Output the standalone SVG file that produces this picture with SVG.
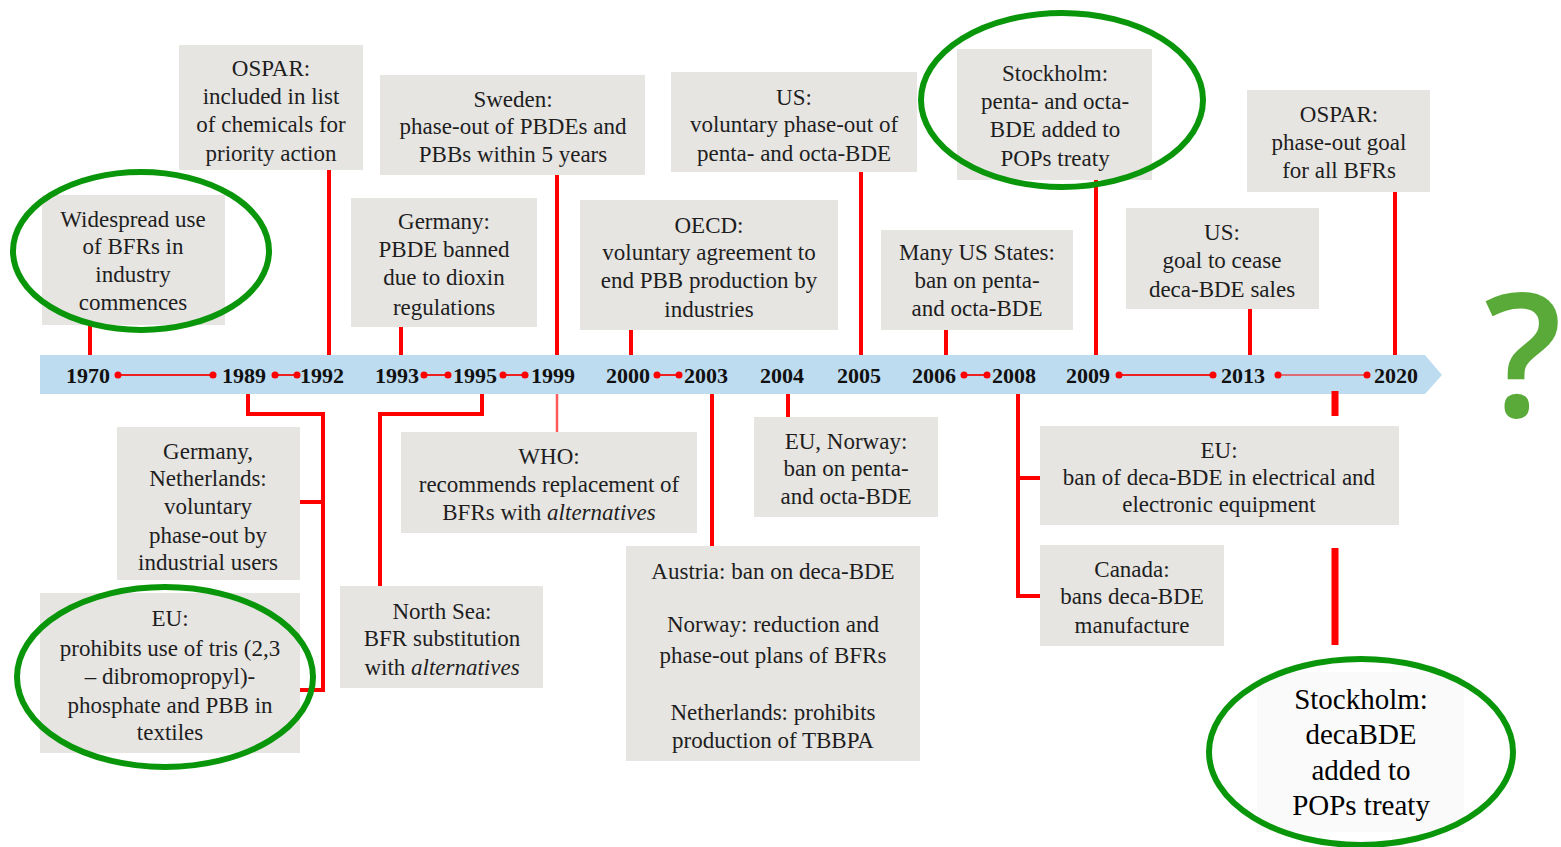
<svg xmlns="http://www.w3.org/2000/svg" width="1561" height="847" viewBox="0 0 1561 847">
<style>
.box{fill:#e6e5e2}
.t{font-family:"Liberation Serif","Times New Roman",serif;font-size:23px;fill:#1e1e1e;text-anchor:middle}
.yr{font-family:"Liberation Serif","Times New Roman",serif;font-size:22px;font-weight:bold;fill:#111;text-anchor:middle}
.ln{stroke:#ff0000;stroke-width:4;fill:none}
.dl{stroke:#f02020;stroke-width:2;fill:none}
.dot{fill:#ff0000}
.ring{fill:none;stroke:#0a960a;stroke-width:6}
</style>
<rect width="1561" height="847" fill="#ffffff"/>
<g id="timeline">
<polygon points="40,355 1425,355 1442,375 1425,394 40,394" fill="#bddcf0"/>
<text class="yr" x="88" y="383">1970</text>
<text class="yr" x="244" y="383">1989</text>
<text class="yr" x="322" y="383">1992</text>
<text class="yr" x="397" y="383">1993</text>
<text class="yr" x="475" y="383">1995</text>
<text class="yr" x="553" y="383">1999</text>
<text class="yr" x="628" y="383">2000</text>
<text class="yr" x="706" y="383">2003</text>
<text class="yr" x="782" y="383">2004</text>
<text class="yr" x="859" y="383">2005</text>
<text class="yr" x="934" y="383">2006</text>
<text class="yr" x="1014" y="383">2008</text>
<text class="yr" x="1088" y="383">2009</text>
<text class="yr" x="1243" y="383">2013</text>
<text class="yr" x="1396" y="383">2020</text>
</g>
<g id="connectors">
<line class="dl" x1="118" y1="375" x2="213" y2="375"/><circle class="dot" cx="118" cy="375" r="3.5"/><circle class="dot" cx="213" cy="375" r="3.5"/>
<line class="dl" x1="275" y1="375" x2="297" y2="375"/><circle class="dot" cx="275" cy="375" r="3.5"/><circle class="dot" cx="297" cy="375" r="3.5"/>
<line class="dl" x1="424" y1="375" x2="448" y2="375"/><circle class="dot" cx="424" cy="375" r="3.5"/><circle class="dot" cx="448" cy="375" r="3.5"/>
<line class="dl" x1="503" y1="375" x2="525" y2="375"/><circle class="dot" cx="503" cy="375" r="3.5"/><circle class="dot" cx="525" cy="375" r="3.5"/>
<line class="dl" x1="657" y1="375" x2="679" y2="375"/><circle class="dot" cx="657" cy="375" r="3.5"/><circle class="dot" cx="679" cy="375" r="3.5"/>
<line class="dl" x1="964" y1="375" x2="987" y2="375"/><circle class="dot" cx="964" cy="375" r="3.5"/><circle class="dot" cx="987" cy="375" r="3.5"/>
<line class="dl" x1="1119" y1="375" x2="1213" y2="375"/><circle class="dot" cx="1119" cy="375" r="3.5"/><circle class="dot" cx="1213" cy="375" r="3.5"/>
<line class="dl" x1="1278" y1="375" x2="1367" y2="375" stroke-opacity="0.6"/><circle class="dot" cx="1278" cy="375" r="3.5"/><circle class="dot" cx="1367" cy="375" r="3.5"/>
<line class="ln" x1="90" y1="325" x2="90" y2="355"/>
<line class="ln" x1="329" y1="170" x2="329" y2="355"/>
<line class="ln" x1="557" y1="175" x2="557" y2="355"/>
<line class="ln" x1="401" y1="327" x2="401" y2="355"/>
<line class="ln" x1="861" y1="172" x2="861" y2="355"/>
<line class="ln" x1="631" y1="330" x2="631" y2="355"/>
<line class="ln" x1="1096" y1="180" x2="1096" y2="355"/>
<line class="ln" x1="946" y1="330" x2="946" y2="355"/>
<line class="ln" x1="1395" y1="192" x2="1395" y2="355"/>
<line class="ln" x1="1250" y1="309" x2="1250" y2="355"/>
<polyline class="ln" points="248,394 248,414 323,414 323,690 300,690"/>
<line class="ln" x1="300" y1="502" x2="323" y2="502"/>
<polyline class="ln" points="482,394 482,414 380,414 380,586"/>
<line x1="557" y1="394" x2="557" y2="432" stroke="#ff3030" stroke-width="2.5" stroke-opacity="0.8"/>
<line class="ln" x1="788" y1="394" x2="788" y2="417"/>
<line class="ln" x1="712" y1="394" x2="712" y2="546"/>
<polyline class="ln" points="1018,394 1018,596 1040,596"/>
<line class="ln" x1="1018" y1="478" x2="1040" y2="478"/>
<line x1="1335" y1="391" x2="1335" y2="416" stroke="#ff0000" stroke-width="7"/>
<line x1="1335" y1="548" x2="1335" y2="645" stroke="#ff0000" stroke-width="7"/>
</g>
<g id="n1970">
<rect class="box" x="42" y="195" width="183" height="130"/>
<text class="t" x="133" y="227">Widespread use</text>
<text class="t" x="133" y="254">of BFRs in</text>
<text class="t" x="133" y="282">industry</text>
<text class="t" x="133" y="310">commences</text>
<ellipse class="ring" cx="141" cy="251" rx="128" ry="79"/>
</g>
<g id="n1992">
<rect class="box" x="179" y="45" width="184" height="125"/>
<text class="t" x="271" y="76">OSPAR:</text>
<text class="t" x="271" y="104">included in list</text>
<text class="t" x="271" y="132">of chemicals for</text>
<text class="t" x="271" y="161">priority action</text>
</g>
<g id="n1999a">
<rect class="box" x="380" y="75" width="265" height="100"/>
<text class="t" x="513" y="107">Sweden:</text>
<text class="t" x="513" y="134">phase-out of PBDEs and</text>
<text class="t" x="513" y="162">PBBs within 5 years</text>
</g>
<g id="n1993">
<rect class="box" x="351" y="198" width="186" height="129"/>
<text class="t" x="444" y="229">Germany:</text>
<text class="t" x="444" y="257">PBDE banned</text>
<text class="t" x="444" y="285">due to dioxin</text>
<text class="t" x="444" y="315">regulations</text>
</g>
<g id="n2005">
<rect class="box" x="671" y="72" width="246" height="100"/>
<text class="t" x="794" y="105">US:</text>
<text class="t" x="794" y="132">voluntary phase-out of</text>
<text class="t" x="794" y="161">penta- and octa-BDE</text>
</g>
<g id="n2000">
<rect class="box" x="580" y="200" width="258" height="130"/>
<text class="t" x="709" y="233">OECD:</text>
<text class="t" x="709" y="260">voluntary agreement to</text>
<text class="t" x="709" y="288">end PBB production by</text>
<text class="t" x="709" y="317">industries</text>
</g>
<g id="n2009">
<rect class="box" x="957" y="49" width="195" height="131"/>
<text class="t" x="1055" y="81">Stockholm:</text>
<text class="t" x="1055" y="109">penta- and octa-</text>
<text class="t" x="1055" y="137">BDE added to</text>
<text class="t" x="1055" y="166">POPs treaty</text>
<ellipse class="ring" cx="1062" cy="100" rx="141" ry="87"/>
</g>
<g id="n2006">
<rect class="box" x="881" y="230" width="192" height="100"/>
<text class="t" x="977" y="260">Many US States:</text>
<text class="t" x="977" y="288">ban on penta-</text>
<text class="t" x="977" y="316">and octa-BDE</text>
</g>
<g id="n2020">
<rect class="box" x="1247" y="90" width="183" height="102"/>
<text class="t" x="1339" y="122">OSPAR:</text>
<text class="t" x="1339" y="150">phase-out goal</text>
<text class="t" x="1339" y="178">for all BFRs</text>
</g>
<g id="n2013">
<rect class="box" x="1126" y="208" width="193" height="101"/>
<text class="t" x="1222" y="240">US:</text>
<text class="t" x="1222" y="268">goal to cease</text>
<text class="t" x="1222" y="297">deca-BDE sales</text>
</g>
<g id="n1989a">
<rect class="box" x="117" y="427" width="183" height="153"/>
<text class="t" x="208" y="459">Germany,</text>
<text class="t" x="208" y="486">Netherlands:</text>
<text class="t" x="208" y="514">voluntary</text>
<text class="t" x="208" y="543">phase-out by</text>
<text class="t" x="208" y="570">industrial users</text>
</g>
<g id="n1989b">
<rect class="box" x="40" y="593" width="260" height="160"/>
<text class="t" x="170" y="626">EU:</text>
<text class="t" x="170" y="656">prohibits use of tris (2,3</text>
<text class="t" x="170" y="684">– dibromopropyl)-</text>
<text class="t" x="170" y="713">phosphate and PBB in</text>
<text class="t" x="170" y="740">textiles</text>
<ellipse class="ring" cx="165" cy="677" rx="148" ry="90"/>
</g>
<g id="n1999b">
<rect class="box" x="401" y="432" width="296" height="101"/>
<text class="t" x="549" y="464">WHO:</text>
<text class="t" x="549" y="492">recommends replacement of</text>
<text class="t" x="549" y="520">BFRs with <tspan font-style="italic">alternatives</tspan></text>
</g>
<g id="n1995">
<rect class="box" x="340" y="586" width="203" height="102"/>
<text class="t" x="442" y="619">North Sea:</text>
<text class="t" x="442" y="646">BFR substitution</text>
<text class="t" x="442" y="675">with <tspan font-style="italic">alternatives</tspan></text>
</g>
<g id="n2004">
<rect class="box" x="754" y="417" width="184" height="100"/>
<text class="t" x="846" y="449">EU, Norway:</text>
<text class="t" x="846" y="476">ban on penta-</text>
<text class="t" x="846" y="504">and octa-BDE</text>
</g>
<g id="n2003">
<rect class="box" x="626" y="546" width="294" height="215"/>
<text class="t" x="773" y="579">Austria: ban on deca-BDE</text>
<text class="t" x="773" y="632">Norway: reduction and</text>
<text class="t" x="773" y="663">phase-out plans of BFRs</text>
<text class="t" x="773" y="720">Netherlands: prohibits</text>
<text class="t" x="773" y="748">production of TBBPA</text>
</g>
<g id="n2008a">
<rect class="box" x="1040" y="426" width="359" height="99"/>
<text class="t" x="1219" y="458">EU:</text>
<text class="t" x="1219" y="485">ban of deca-BDE in electrical and</text>
<text class="t" x="1219" y="512">electronic equipment</text>
</g>
<g id="n2008b">
<rect class="box" x="1040" y="545" width="184" height="101"/>
<text class="t" x="1132" y="577">Canada:</text>
<text class="t" x="1132" y="604">bans deca-BDE</text>
<text class="t" x="1132" y="633">manufacture</text>
</g>
<g id="nfuture">
<rect x="1257" y="672" width="207" height="160" fill="#fafafa"/>
<text class="t" x="1361" y="709" style="font-size:29px;fill:#000">Stockholm:</text>
<text class="t" x="1361" y="744" style="font-size:29px;fill:#000">decaBDE</text>
<text class="t" x="1361" y="780" style="font-size:29px;fill:#000">added to</text>
<text class="t" x="1361" y="815" style="font-size:29px;fill:#000">POPs treaty</text>
<ellipse class="ring" cx="1361" cy="752" rx="152" ry="93"/>
</g>
<g id="question">
<text x="1484" y="417" font-family="'Open Sans','Noto Sans',sans-serif" font-size="172" font-weight="600" fill="#5aaa3a">?</text>
</g>
</svg>
